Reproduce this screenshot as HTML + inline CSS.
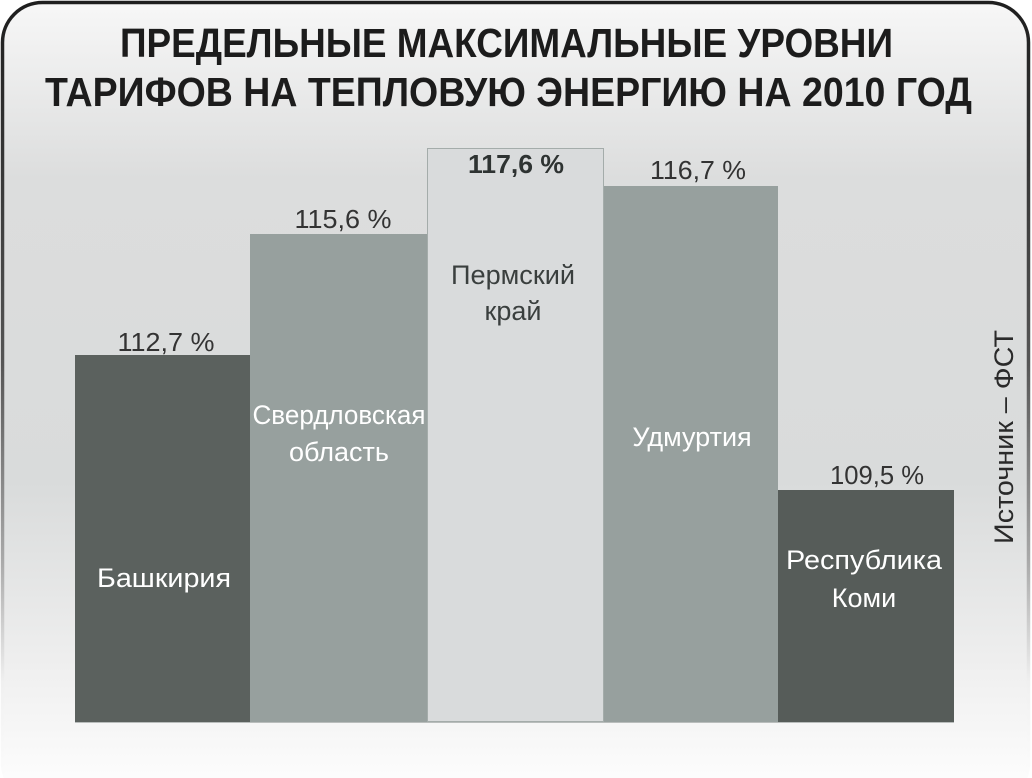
<!DOCTYPE html>
<html><head><meta charset="utf-8"><style>
html,body{margin:0;padding:0;background:#fff;}
svg{display:block;}
</style></head><body>
<svg width="1032" height="778" viewBox="0 0 1032 778" xmlns="http://www.w3.org/2000/svg" font-family="Liberation Sans, sans-serif">
<defs>
<linearGradient id="bg" x1="0" y1="0" x2="0" y2="1">
<stop offset="0" stop-color="#f7f7f7"/>
<stop offset="0.22" stop-color="#dcdddd"/>
<stop offset="0.6" stop-color="#d9dbdb"/>
<stop offset="0.82" stop-color="#eeeeee"/>
<stop offset="1" stop-color="#ffffff"/>
</linearGradient>
<linearGradient id="bd" x1="0" y1="0" x2="0" y2="1">
<stop offset="0" stop-color="#1e1e1e"/>
<stop offset="0.45" stop-color="#555"/>
<stop offset="0.7" stop-color="#aaa"/>
<stop offset="0.85" stop-color="#f0f0f0"/>
<stop offset="1" stop-color="#ffffff"/>
</linearGradient>
</defs>
<rect x="2.5" y="2.5" width="1026" height="800" rx="40" fill="url(#bg)" stroke="url(#bd)" stroke-width="3.5"/>
<g font-weight="bold" font-size="41" fill="#1c1c1c" text-anchor="start">
<text x="120" y="57" textLength="773" lengthAdjust="spacingAndGlyphs">ПРЕДЕЛЬНЫЕ МАКСИМАЛЬНЫЕ УРОВНИ</text>
<text x="45" y="106" textLength="927" lengthAdjust="spacingAndGlyphs">ТАРИФОВ НА ТЕПЛОВУЮ ЭНЕРГИЮ НА 2010 ГОД</text>
</g>
<rect x="75" y="355" width="175" height="367" fill="#5b615e"/>
<rect x="250" y="234" width="177" height="488" fill="#97a09e"/>
<rect x="427.5" y="148.5" width="176" height="573" fill="#d9dbdc" stroke="#a4acaa" stroke-width="1"/>
<rect x="604" y="186" width="174" height="536" fill="#97a09e"/>
<rect x="778" y="490" width="176" height="232" fill="#565c59"/>
<line x1="75" y1="722.5" x2="954" y2="722.5" stroke="#b9bdbc" stroke-width="1"/>
<g font-size="26" fill="#333" text-anchor="middle">
<text x="166" y="351" textLength="97" lengthAdjust="spacingAndGlyphs">112,7 %</text>
<text x="343" y="228" textLength="97" lengthAdjust="spacingAndGlyphs">115,6 %</text>
<text x="516" y="173" font-weight="bold" fill="#2e3332" textLength="96" lengthAdjust="spacingAndGlyphs">117,6 %</text>
<text x="698" y="179" textLength="96" lengthAdjust="spacingAndGlyphs">116,7 %</text>
<text x="877" y="484" textLength="94" lengthAdjust="spacingAndGlyphs">109,5 %</text>
</g>
<g font-size="27" fill="#fff" text-anchor="middle">
<text x="164" y="587" textLength="134" lengthAdjust="spacingAndGlyphs">Башкирия</text>
<text x="339" y="424" textLength="173" lengthAdjust="spacingAndGlyphs">Свердловская</text>
<text x="339" y="461">область</text>
<text x="692" y="446">Удмуртия</text>
<text x="864" y="569" textLength="156" lengthAdjust="spacingAndGlyphs">Республика</text>
<text x="864" y="607">Коми</text>
</g>
<g font-size="27" fill="#3a3f3e" text-anchor="middle">
<text x="513" y="284" textLength="124" lengthAdjust="spacingAndGlyphs">Пермский</text>
<text x="513" y="320">край</text>
</g>
<text transform="translate(1013,437) rotate(-90)" font-size="27" fill="#2a2a2a" text-anchor="middle" textLength="214" lengthAdjust="spacingAndGlyphs">Источник – ФСТ</text>
</svg>
</body></html>
